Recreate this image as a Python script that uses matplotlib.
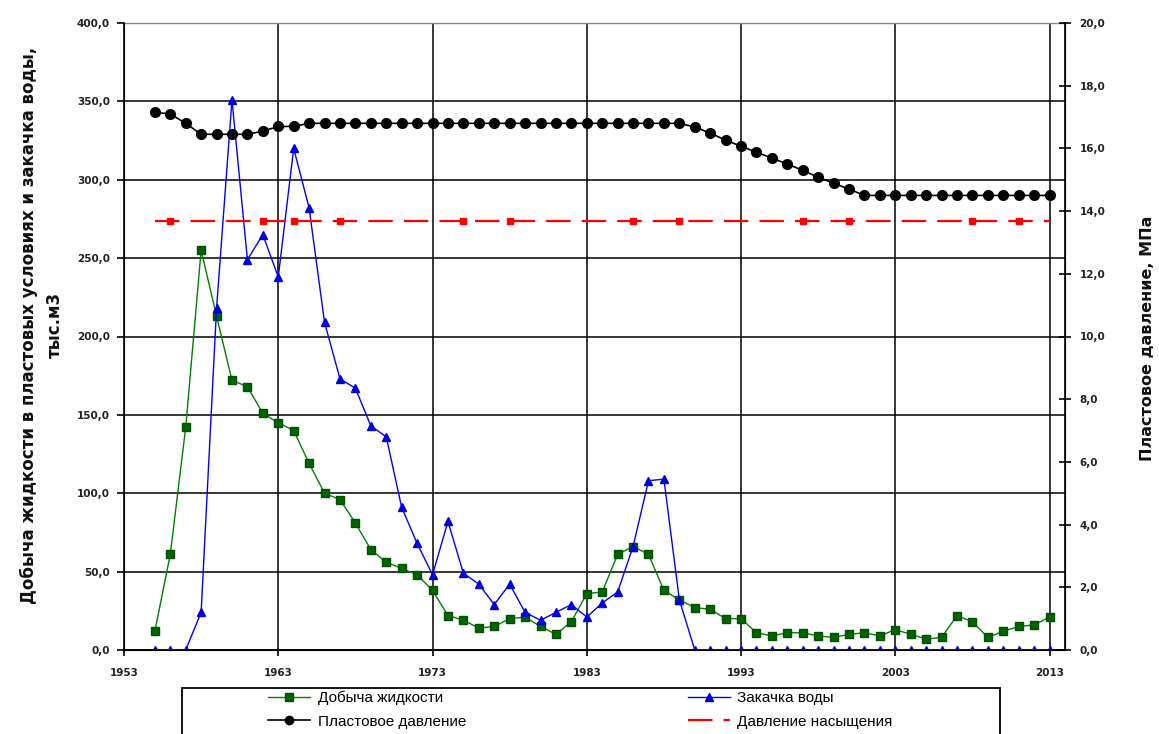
import matplotlib
matplotlib.use("Agg")
import matplotlib.pyplot as plt
from matplotlib.patches import Rectangle
from matplotlib.ticker import FuncFormatter, MultipleLocator

plt.rcParams["font.family"] = ["Liberation Sans", "DejaVu Sans"]

# ── data ──────────────────────────────────────────────────────────────────────
years = list(range(1955, 2014))

# liquid production, thousand m3 (reservoir conditions)
liquid = [12, 61, 142, 255, 213, 172, 168, 151, 145, 140,
          119, 100, 96, 81, 64, 56, 52, 48, 38, 22,
          19, 14, 15, 20, 21, 15, 10, 18, 36, 37,
          61, 66, 61, 38, 32, 27, 26, 20, 20, 11,
          9, 11, 11, 9, 8, 10, 11, 9, 13, 10,
          7, 8, 22, 18, 8, 12, 15, 16, 21]

# water injection, thousand m3
injection = [0, 0, 0, 24, 218, 351, 249, 265, 238, 320,
             282, 209, 173, 167, 143, 136, 91, 68, 48, 82,
             49, 42, 29, 42, 24, 19, 24, 29, 21, 30,
             37, 66, 108, 109, 32, 0, 0, 0, 0, 0,
             0, 0, 0, 0, 0, 0, 0, 0, 0, 0,
             0, 0, 0, 0, 0, 0, 0, 0, 0]

# reservoir pressure, MPa
pressure = [17.15, 17.1, 16.8, 16.45, 16.45, 16.45, 16.45, 16.55, 16.7, 16.7,
            16.8, 16.8, 16.8, 16.8, 16.8, 16.8, 16.8, 16.8, 16.8, 16.8,
            16.8, 16.8, 16.8, 16.8, 16.8, 16.8, 16.8, 16.8, 16.8, 16.8,
            16.8, 16.8, 16.8, 16.8, 16.8, 16.68, 16.49, 16.26, 16.07, 15.88,
            15.69, 15.5, 15.3, 15.08, 14.89, 14.7, 14.5, 14.5, 14.5, 14.5,
            14.5, 14.5, 14.5, 14.5, 14.5, 14.5, 14.5, 14.5, 14.5]

# bubble point pressure, MPa
sat_pressure = [13.7] * len(years)
sat_marker_years = [1956, 1962, 1964, 1967, 1975, 1978, 1986, 1989, 1997, 2000, 2008, 2011]

x_ticks = [1953, 1963, 1973, 1983, 1993, 2003, 2013]


def comma_fmt(v, pos=None):
    return f"{v:.1f}".replace(".", ",")


W, H = 1159, 734
fig = plt.figure(figsize=(W / 100, H / 100), dpi=100)
ax = fig.add_axes([124 / W, 1 - 650 / H, (1065 - 124) / W, (650 - 23) / H])
ax2 = ax.twinx()

# ── grid & axes ───────────────────────────────────────────────────────────────
ax.set_xlim(1953, 2014)
ax.set_ylim(0, 400)
ax2.set_ylim(0, 20)
ax.set_xticks(x_ticks)
ax.yaxis.set_major_locator(MultipleLocator(50))
ax2.yaxis.set_major_locator(MultipleLocator(2))
ax.yaxis.set_major_formatter(FuncFormatter(comma_fmt))
ax2.yaxis.set_major_formatter(FuncFormatter(comma_fmt))

ax.grid(True, color="black", linewidth=1.1)
ax.set_axisbelow(True)
for s in ("left", "bottom"):
    ax.spines[s].set_linewidth(1.2)
ax.spines["top"].set_color("#888888")
ax.spines["top"].set_linewidth(1.0)
ax2.spines["right"].set_linewidth(1.2)
ax2.spines["top"].set_visible(False)

tick_font = dict(family="DejaVu Sans", fontsize=7.5, fontweight="bold", color="#222222")
ax.tick_params(axis="y", direction="out", length=5, width=1.2, pad=5)
ax.tick_params(axis="x", direction="out", length=4, width=1.2, pad=9)
ax2.tick_params(axis="y", direction="inout", length=9, width=1.2, pad=6)
for lbl in ax.get_xticklabels() + ax.get_yticklabels() + ax2.get_yticklabels():
    lbl.set(**tick_font)

label_font = dict(family="DejaVu Sans", fontweight="bold", color="#111111")
fig.text(42 / W, 1 - 325 / H,
         "Добыча жидкости в пластовых условиях и закачка воды,\nтыс.м3",
         rotation=90, ha="center", va="center", multialignment="center",
         linespacing=1.6, fontsize=12, **label_font)
fig.text(1147 / W, 1 - 338 / H, "Пластовое давление, МПа",
         rotation=90, ha="center", va="center", fontsize=11.5, **label_font)

# ── series ────────────────────────────────────────────────────────────────────
h_liq, = ax.plot(years, liquid, color="#008000", linewidth=1.0, marker="s",
                 markersize=5.5, markerfacecolor="#006400", markeredgecolor="#005000",
                 label="Добыча жидкости", zorder=3)
h_inj, = ax.plot(years, injection, color="#0000ff", linewidth=1.0, marker="^",
                 markersize=6, markerfacecolor="#0000ee", markeredgecolor="#0000cc",
                 label="Закачка воды", zorder=4)
h_pr, = ax2.plot(years, pressure, color="black", linewidth=1.2, marker="o",
                 markersize=7, label="Пластовое давление", zorder=3)
h_sat, = ax2.plot(years, sat_pressure, color="#ff0000", linewidth=1.6,
                  linestyle=(0, (11, 5)), marker="s", markersize=4,
                  markevery=[years.index(y) for y in sat_marker_years],
                  label="Давление насыщения", zorder=3)

# ── legend ────────────────────────────────────────────────────────────────────
fig.patches.append(Rectangle((182 / W, -0.02), (1000 - 182) / W, 0.02 + (734 - 688) / H,
                             transform=fig.transFigure, fill=False,
                             edgecolor="black", linewidth=1.3))
leg = fig.legend([h_liq, h_pr, h_inj, h_sat],
                 ["Добыча жидкости", "Пластовое давление", "Закачка воды", "Давление насыщения"],
                 ncol=2, loc="upper left", bbox_to_anchor=(265 / W, 1 - 688 / H),
                 frameon=False, fontsize=11, numpoints=1, handlelength=2.75,
                 handletextpad=0.5, columnspacing=14.5, labelspacing=0.6,
                 borderpad=0.2, borderaxespad=0)
leg.legend_handles[1].set_markersize(6)
leg.legend_handles[3].set_markevery(None)
leg.legend_handles[3].set_marker("None")

fig.savefig("out.png", dpi=100)
